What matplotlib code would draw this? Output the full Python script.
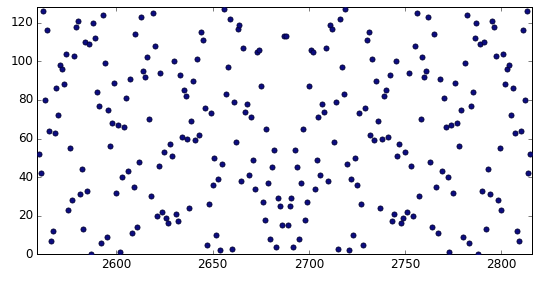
import matplotlib
matplotlib.use("Agg")
import matplotlib.pyplot as plt

plt.style.use("classic")

# x positions: consecutive integers 2560..2815
x_start = 2560
x_end = 2815

# y values, one per integer x
y_values = [
    52, 42, 126, 80, 116, 64, 7, 12, 63, 86,        # 2560-2569
    72, 98, 96, 88, 104, 23, 55, 28, 103, 118,      # 2570-2579
    121, 31, 44, 13, 110, 33, 109, 0, 120, 112,     # 2580-2589
    84, 77, 6, 124, 99, 9, 75, 56, 68, 89,          # 2590-2599
    32, 67, 1, 40, 66, 81, 43, 91, 11, 35,          # 2600-2609
    114, 14, 48, 123, 95, 92, 102, 70, 30, 125,     # 2610-2619
    108, 20, 46, 94, 22, 53, 19, 16, 57, 51,        # 2620-2629
    100, 21, 17, 93, 61, 85, 82, 60, 24, 69,        # 2630-2639
    90, 59, 101, 62, 115, 111, 76, 5, 26, 73,       # 2640-2649
    36, 50, 10, 39, 2, 47, 127, 83, 97, 122,        # 2650-2659
    3, 79, 58, 117, 119, 38, 107, 74, 78, 41,       # 2660-2669
    71, 49, 34, 105, 106, 87, 27, 18, 65, 37,       # 2670-2679
    8, 45, 54, 4, 29, 25, 15, 113, 113, 15,         # 2680-2689
    25, 29, 4, 54, 45, 8, 37, 65, 18, 27,           # 2690-2699
    87, 106, 105, 34, 49, 71, 41, 78, 74, 107,      # 2700-2709
    38, 119, 117, 58, 79, 3, 122, 97, 83, 127,      # 2710-2719
    47, 2, 39, 10, 50, 36, 73, 26, 5, 76,           # 2720-2729
    111, 115, 62, 101, 59, 90, 69, 24, 60, 82,      # 2730-2739
    85, 61, 93, 17, 21, 100, 51, 57, 16, 19,        # 2740-2749
    53, 22, 94, 46, 20, 108, 125, 30, 70, 102,      # 2750-2759
    92, 95, 123, 48, 14, 114, 35, 11, 91, 43,       # 2760-2769
    81, 66, 40, 1, 67, 32, 89, 68, 56, 75,          # 2770-2779
    9, 99, 124, 6, 77, 84, 112, 120, 0, 109,        # 2780-2789
    33, 110, 13, 44, 31, 121, 118, 103, 28, 55,     # 2790-2799
    23, 104, 88, 96, 98, 72, 86, 63, 12, 7,         # 2800-2809
    64, 116, 80, 126, 42, 52,                       # 2810-2815
]
x_values = list(range(x_start, x_end + 1))

x_ticks = [2600, 2650, 2700, 2750, 2800]
y_ticks = [0, 20, 40, 60, 80, 100, 120]

fig = plt.figure(figsize=(540 / 72, 282 / 72), dpi=72, facecolor="white")
ax = fig.add_axes([37.2 / 540, 1 - 254.3 / 282, (532.3 - 37.2) / 540, (254.3 - 7.3) / 282])
ax.scatter(x_values, y_values, s=26, c="#0c0c80", edgecolors="#000030", linewidths=0.8, zorder=3)
ax.set_xlim(2559, 2816)
ax.set_ylim(0, 128)
ax.set_xticks(x_ticks)
ax.set_yticks(y_ticks)
ax.tick_params(labelsize=12)
fig.savefig("out.png", dpi=72, facecolor="white")
